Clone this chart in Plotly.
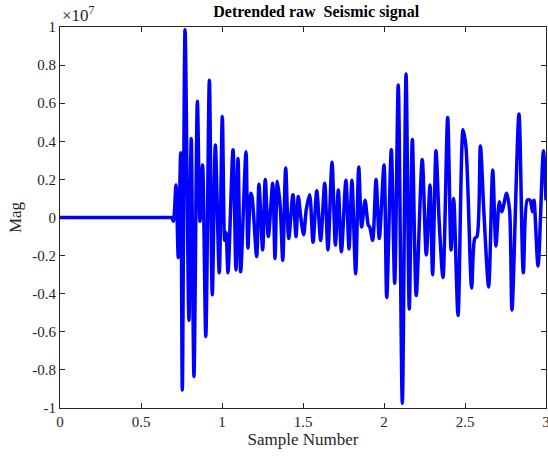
import plotly.graph_objects as go

# Extrema (x: sample number, y: magnitude in units of 1e7)
sample_x = [0.0, 0.2, 0.4, 0.6, 0.68, 0.69, 0.70, 0.716, 0.73, 0.745, 0.755, 0.772, 0.796, 0.81, 0.827, 0.848, 0.864, 0.88,
            0.90, 0.922, 0.94, 0.959, 0.983, 1.002, 1.017, 1.025, 1.037, 1.068, 1.086, 1.099, 1.115,
            1.148, 1.16, 1.177, 1.185, 1.214, 1.228, 1.251, 1.267, 1.286, 1.313, 1.327, 1.342, 1.36,
            1.375, 1.393, 1.412, 1.438, 1.457, 1.471, 1.485, 1.504, 1.52, 1.541, 1.562, 1.585, 1.609,
            1.634, 1.654, 1.679, 1.70, 1.718, 1.737, 1.765, 1.784, 1.802, 1.825, 1.844, 1.862, 1.883,
            1.903, 1.912, 1.93, 1.951, 1.971, 2.0, 2.017, 2.045, 2.066, 2.088, 2.113, 2.136, 2.156,
            2.175, 2.199, 2.236, 2.261, 2.284, 2.30, 2.321, 2.341, 2.364, 2.393, 2.414, 2.43, 2.457,
            2.488, 2.506, 2.541, 2.56, 2.574, 2.595, 2.617, 2.646, 2.671, 2.691, 2.712, 2.727, 2.757,
            2.775, 2.79, 2.833, 2.86, 2.885, 2.902, 2.917, 2.926, 2.951, 2.984, 3.0]
magnitude = [0.0, 0.0, 0.0, 0.0, 0.0, 0.0, -0.02, 0.17, -0.21, 0.34, -0.905, 0.985, -0.54, 0.415, -0.835, 0.61, -0.02, 0.275,
             -0.625, 0.72, -0.405, 0.38, -0.29, 0.53, -0.12, -0.08, -0.29, 0.355, -0.275, 0.31, -0.285,
             0.345, -0.16, 0.127, 0.11, -0.205, 0.175, -0.17, 0.2, -0.1, 0.18, -0.215, 0.19, 0.05,
             -0.225, 0.26, -0.11, 0.12, -0.1, 0.11, 0.01, -0.09, 0.04, 0.12, -0.13, 0.14, -0.12,
             0.18, -0.17, 0.29, -0.145, 0.145, -0.18, 0.195, -0.165, 0.195, -0.295, 0.265, -0.05, 0.09,
             -0.04, -0.05, -0.12, 0.2, -0.11, 0.275, -0.42, 0.355, -0.345, 0.695, -0.975, 0.753, -0.48,
             0.41, -0.41, 0.305, -0.197, 0.17, -0.3, 0.35, -0.03, -0.315, 0.525, -0.17, 0.1, -0.515,
             0.46, 0.37, -0.37, -0.11, -0.1, 0.375, 0.02, -0.365, 0.25, -0.15, 0.083, 0.03, 0.127,
             0.04, -0.485, 0.543, -0.29, 0.092, 0.09, 0.03, 0.09, -0.255, 0.35, 0.09]

y_ticks = [-1, -0.8, -0.6, -0.4, -0.2, 0, 0.2, 0.4, 0.6, 0.8, 1]
y_tick_labels = ["-1", "-0.8", "-0.6", "-0.4", "-0.2", "0", "0.2", "0.4", "0.6", "0.8", "1"]
x_ticks = [0, 0.5, 1, 1.5, 2, 2.5, 3]
x_tick_labels = ["0", "0.5", "1", "1.5", "2", "2.5", "3"]

FONT = "Liberation Serif, Times New Roman, serif"

fig = go.Figure()
fig.add_trace(go.Scatter(
    x=sample_x, y=magnitude, mode="lines",
    line=dict(color="#0000FF", width=3.5, shape="spline", smoothing=0.8),
    showlegend=False, hoverinfo="skip"))

axis_common = dict(showline=True, linecolor="#262626", linewidth=1, mirror="ticks",
                   ticks="inside", ticklen=5, tickcolor="#262626", showgrid=False,
                   zeroline=False, automargin=False, ticklabeloverflow="allow",
                   tickfont=dict(family=FONT, size=15, color="#262626"))

fig.update_xaxes(range=[0, 3], tickvals=x_ticks, ticktext=x_tick_labels,
                 title=dict(text="Sample Number", font=dict(family=FONT, size=17, color="#262626"), standoff=4),
                 **axis_common)
fig.update_yaxes(range=[-1, 1], tickvals=y_ticks, ticktext=y_tick_labels,
                 title=dict(text="Mag", font=dict(family=FONT, size=17, color="#262626"), standoff=6),
                 **axis_common)

fig.update_layout(
    width=548, height=456,
    margin=dict(l=60, r=2, t=27, b=48),
    paper_bgcolor="white", plot_bgcolor="white",
    title=dict(text="<b>Detrended raw\u00a0 Seismic signal</b>", x=0.577, xanchor="center",
               y=0.974, yanchor="middle", font=dict(family=FONT, size=16, color="black")),
    annotations=[dict(text="\u00d710<sup>7</sup>", xref="paper", yref="paper", x=0, y=1.0,
                      xanchor="left", yanchor="bottom", showarrow=False,
                      font=dict(family=FONT, size=17, color="#262626"))],
)

fig.write_html("out.html", config={"responsive": False, "displayModeBar": False},
               post_script="document.body.style.margin='0';document.body.style.overflow='hidden';")
